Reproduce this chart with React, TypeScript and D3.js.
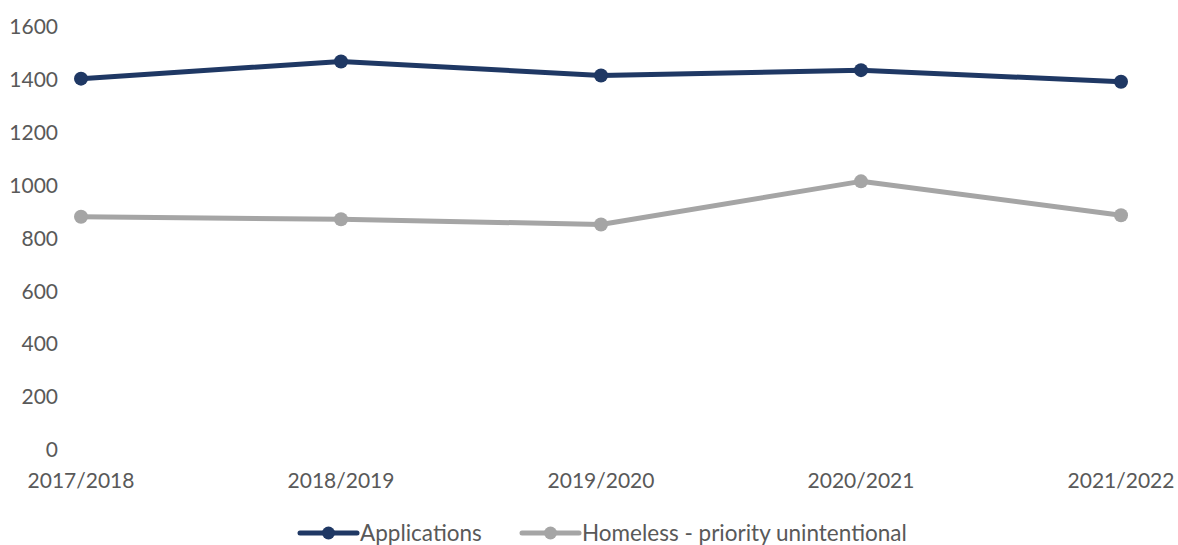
import React from "react";
import * as d3 from "d3";

const categories = ["2017/2018", "2018/2019", "2019/2020", "2020/2021", "2021/2022"];
const applications = [1403, 1468, 1415, 1435, 1391];
const homelessPriority = [881, 872, 852, 1015, 887];
const yTicks = [0, 200, 400, 600, 800, 1000, 1200, 1400, 1600];
const seriesNames = ["Applications", "Homeless - priority unintentional"];
const seriesColors = ["#1F3864", "#A5A5A5"];

const W = 1178;
const H = 545;
const FONT = "Lato, 'Open Sans', sans-serif";
const TEXT = "#595959";

export default function App() {
  const x = d3.scalePoint<string>().domain(categories).range([81, 1121]);
  const y = d3.scaleLinear().domain([0, 1600]).range([450, 26.5]);
  const line = d3
    .line<number>()
    .x((_, i) => x(categories[i]) as number)
    .y((d) => y(d));
  const series = [applications, homelessPriority];
  const legendItems = [
    { lx: 300, tx: 360 },
    { lx: 522, tx: 582 },
  ];
  return (
    <svg
      width={W}
      height={H}
      style={{ position: "absolute", left: 0, top: 0, background: "#fff" }}
      fontFamily={FONT}
    >
      {yTicks.map((t) => (
        <text
          key={t}
          x={58}
          y={y(t)}
          dy="0.35em"
          textAnchor="end"
          fontSize={21}
          fill={TEXT}
        >
          {t}
        </text>
      ))}
      {categories.map((c) => (
        <text
          key={c}
          x={x(c) as number}
          y={481}
          dy="0.35em"
          textAnchor="middle"
          fontSize={21}
          fill={TEXT}
        >
          {c}
        </text>
      ))}
      {series.map((s, si) => (
        <g key={si}>
          <path
            d={line(s) || ""}
            fill="none"
            stroke={seriesColors[si]}
            strokeWidth={5}
            strokeLinejoin="round"
            strokeLinecap="round"
          />
          {s.map((v, i) => (
            <circle
              key={i}
              cx={x(categories[i]) as number}
              cy={y(v)}
              r={7}
              fill={seriesColors[si]}
            />
          ))}
        </g>
      ))}
      {legendItems.map((li, si) => (
        <g key={si}>
          <line
            x1={li.lx}
            x2={li.lx + 57}
            y1={533}
            y2={533}
            stroke={seriesColors[si]}
            strokeWidth={5}
            strokeLinecap="round"
          />
          <circle cx={li.lx + 28.5} cy={533} r={6.5} fill={seriesColors[si]} />
          <text x={li.tx} y={533} dy="0.35em" fontSize={22.5} fill={TEXT}>
            {seriesNames[si]}
          </text>
        </g>
      ))}
    </svg>
  );
}
